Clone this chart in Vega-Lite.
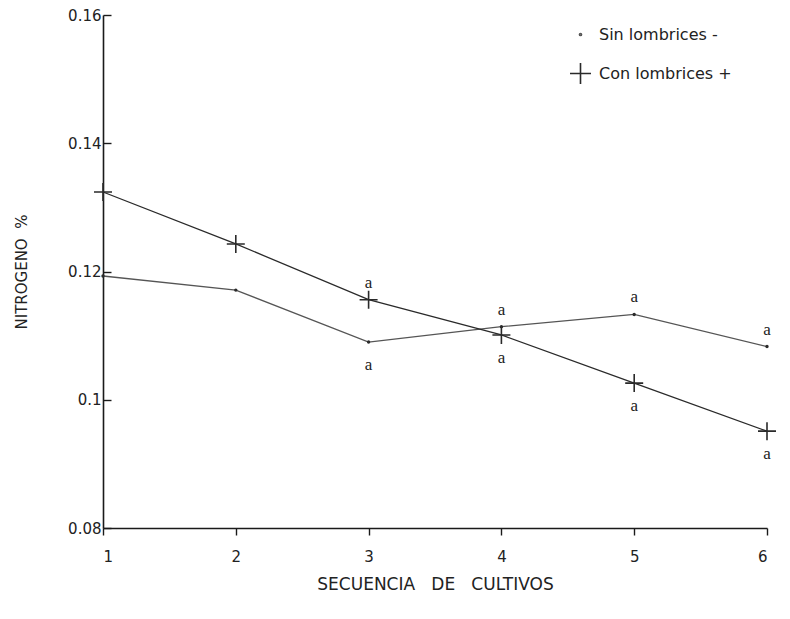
{
  "$schema": "https://vega.github.io/schema/vega-lite/v6.json",
  "width": 664,
  "height": 513,
  "autosize": {"type": "none"},
  "padding": {"left": 103, "top": 15, "right": 23, "bottom": 91},
  "background": "white",
  "config": {
    "view": {"stroke": null},
    "axis": {
      "grid": false,
      "domainColor": "#1a1a1a",
      "domainWidth": 1.6,
      "tickColor": "#1a1a1a",
      "tickWidth": 1.4,
      "labelColor": "#222222",
      "titleColor": "#222222",
      "labelFont": "DejaVu Sans",
      "titleFont": "DejaVu Sans",
      "labelFontSize": 15,
      "titleFontSize": 15,
      "titleFontWeight": "normal"
    },
    "legend": {
      "orient": "none",
      "legendX": 466,
      "legendY": 8,
      "title": null,
      "rowPadding": 16,
      "labelFont": "DejaVu Sans",
      "labelFontSize": 16,
      "labelColor": "#222222",
      "labelOffset": 7,
      "symbolStrokeWidth": 1.6,
      "symbolStrokeColor": "#222222",
      "symbolSize": 440
    }
  },
  "datasets": {
    "nitrogeno": [
      {"secuencia": 1, "serie": "Sin lombrices -", "valor": 0.1193},
      {"secuencia": 2, "serie": "Sin lombrices -", "valor": 0.1171},
      {"secuencia": 3, "serie": "Sin lombrices -", "valor": 0.1090},
      {"secuencia": 4, "serie": "Sin lombrices -", "valor": 0.1114},
      {"secuencia": 5, "serie": "Sin lombrices -", "valor": 0.1133},
      {"secuencia": 6, "serie": "Sin lombrices -", "valor": 0.1083},
      {"secuencia": 1, "serie": "Con lombrices +", "valor": 0.1324},
      {"secuencia": 2, "serie": "Con lombrices +", "valor": 0.1243},
      {"secuencia": 3, "serie": "Con lombrices +", "valor": 0.1156},
      {"secuencia": 4, "serie": "Con lombrices +", "valor": 0.1101},
      {"secuencia": 5, "serie": "Con lombrices +", "valor": 0.1026},
      {"secuencia": 6, "serie": "Con lombrices +", "valor": 0.0951}
    ],
    "letras": [
      {"secuencia": 3, "valor": 0.1156, "posicion": "arriba", "letra": "a"},
      {"secuencia": 4, "valor": 0.1114, "posicion": "arriba", "letra": "a"},
      {"secuencia": 5, "valor": 0.1133, "posicion": "arriba", "letra": "a"},
      {"secuencia": 6, "valor": 0.1083, "posicion": "arriba", "letra": "a"},
      {"secuencia": 3, "valor": 0.1090, "posicion": "abajo", "letra": "a"},
      {"secuencia": 4, "valor": 0.1101, "posicion": "abajo", "letra": "a"},
      {"secuencia": 5, "valor": 0.1026, "posicion": "abajo", "letra": "a"},
      {"secuencia": 6, "valor": 0.0951, "posicion": "abajo", "letra": "a"}
    ]
  },
  "encoding": {
    "x": {
      "field": "secuencia",
      "type": "quantitative",
      "scale": {"domain": [1, 6], "nice": false, "zero": false},
      "axis": {
        "title": "SECUENCIA\u00a0\u00a0\u00a0DE\u00a0\u00a0\u00a0CULTIVOS",
        "values": [1, 2, 3, 4, 5, 6],
        "format": "d",
        "tickSize": 7,
        "labelPadding": 14,
        "titlePadding": 12,
        "titleFontSize": 17
      }
    },
    "y": {
      "field": "valor",
      "type": "quantitative",
      "scale": {"domain": [0.08, 0.16], "nice": false, "zero": false},
      "axis": {
        "title": "NITROGENO\u00a0\u00a0%",
        "values": [0.08, 0.1, 0.12, 0.14, 0.16],
        "format": ".2~f",
        "tickSize": -8,
        "labelPadding": 10,
        "titlePadding": 38
      }
    }
  },
  "layer": [
    {
      "data": {"name": "nitrogeno"},
      "mark": {"type": "line", "strokeWidth": 1.3},
      "encoding": {
        "color": {
          "field": "serie",
          "type": "nominal",
          "scale": {"domain": ["Sin lombrices -", "Con lombrices +"], "range": ["#555555", "#2a2a2a"]}
        }
      }
    },
    {
      "data": {"name": "nitrogeno"},
      "mark": {"type": "point", "filled": false, "strokeWidth": 1.6, "opacity": 1, "stroke": "#2a2a2a", "size": 324},
      "encoding": {
        "shape": {
          "field": "serie",
          "type": "nominal",
          "scale": {
            "domain": ["Sin lombrices -", "Con lombrices +"],
            "range": ["M-0.1,0A0.1,0.1 0 1,0 0.1,0A0.1,0.1 0 1,0 -0.1,0Z", "M-1,0H1M0,-1V1"]
          }
        }
      }
    },
    {
      "data": {"name": "letras"},
      "transform": [{"filter": "datum.posicion === 'arriba'"}],
      "mark": {"type": "text", "dy": -17, "font": "Liberation Serif", "fontSize": 17, "color": "#222222"},
      "encoding": {"text": {"field": "letra"}}
    },
    {
      "data": {"name": "letras"},
      "transform": [{"filter": "datum.posicion === 'abajo'"}],
      "mark": {"type": "text", "dy": 23, "font": "Liberation Serif", "fontSize": 17, "color": "#222222"},
      "encoding": {"text": {"field": "letra"}}
    }
  ]
}
